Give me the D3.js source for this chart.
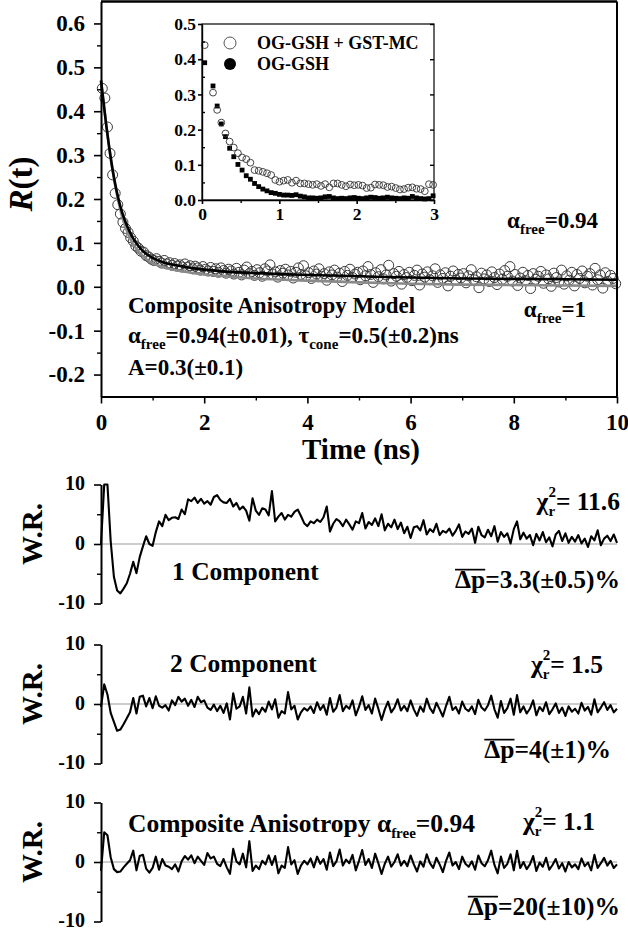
<!DOCTYPE html>
<html><head><meta charset="utf-8">
<script src="https://cdn.jsdelivr.net/npm/d3@7"></script>
<style>body{margin:0;background:#fff} svg text{font-family:"Liberation Serif","DejaVu Serif","Times New Roman",serif;}</style>
</head><body>
<script>
// ---------------- DATA ----------------
const mainT0 = 0.025, mainStep = 0.05;
const mainR = [
0.452,0.430,0.364,0.304,0.255,0.213,0.187,0.166,0.147,0.133,
0.124,0.112,0.104,0.093,0.088,0.081,0.079,0.071,0.068,0.063,
0.060,0.064,0.058,0.054,0.060,0.052,0.055,0.049,0.053,0.047,
0.050,0.045,0.052,0.044,0.048,0.041,0.047,0.043,0.038,0.046,
0.040,0.036,0.044,0.035,0.041,0.033,0.043,0.037,0.031,0.040,
0.036,0.029,0.042,0.033,0.027,0.038,0.045,0.030,0.035,0.026,
0.039,0.032,0.024,0.041,0.036,0.050,0.029,0.034,0.022,0.037,
0.031,0.040,0.027,0.035,0.020,0.033,0.043,0.028,0.048,0.025,
0.032,0.019,0.036,0.029,0.041,0.024,0.030,0.015,0.034,0.027,
0.038,0.022,0.031,0.012,0.035,0.026,0.040,0.021,0.029,0.033,
0.016,0.036,0.025,0.046,0.028,0.010,0.032,0.023,0.039,0.018,
0.027,0.049,0.013,0.030,0.024,0.035,0.006,0.028,0.021,0.033,
0.014,0.026,0.038,0.004,0.029,0.022,0.034,0.016,0.025,0.041,
0.010,0.027,0.019,0.032,0.002,0.024,0.036,0.015,0.028,0.020,
0.030,0.009,0.025,0.039,0.016,0.023,-0.002,0.031,0.018,0.027,
0.012,0.034,0.021,0.005,0.029,0.017,0.037,0.024,0.046,0.013,
0.028,0.003,0.020,0.033,0.014,0.026,-0.004,0.030,0.017,0.024,
0.035,0.008,0.027,0.018,0.001,0.031,0.021,0.011,0.038,0.006,
0.025,0.015,0.033,0.002,0.028,0.019,0.036,0.009,0.024,0.030,
0.004,0.042,0.016,0.027,-0.003,0.032,0.012,0.026,0.019,0.007];

const fitT = [0,0.05,0.1,0.15,0.2,0.25,0.3,0.35,0.4,0.5,0.6,0.7,0.8,0.9,1.0,1.2,1.4,1.6,1.8,2.0,2.5,3,4,5,6,7,8,9,10];
const fitComposite = [0.47,0.42,0.37,0.325,0.285,0.25,0.22,0.195,0.173,0.14,0.115,0.097,0.083,0.073,0.066,0.056,0.050,0.046,0.042,0.039,0.034,0.031,0.027,0.024,0.021,0.019,0.018,0.017,0.016];
const fitFree = [0.47,0.42,0.37,0.325,0.284,0.248,0.216,0.188,0.164,0.128,0.102,0.084,0.071,0.061,0.054,0.045,0.039,0.035,0.031,0.028,0.023,0.019,0.014,0.010,0.007,0.005,0.004,0.003,0.002];

const mainXTicks = [0,2,4,6,8,10];
const mainYTicks = [-0.2,-0.1,0.0,0.1,0.2,0.3,0.4,0.5,0.6];

// inset
const insetT0 = 0.035, insetStep = 0.0537;
const insetWithMC = [0.44,null,0.305,0.256,0.22,0.189,0.166,0.149,0.133,0.121,
0.116,0.106,0.085,0.083,0.080,0.076,0.071,0.057,0.052,0.055,
0.057,0.049,0.055,0.047,0.047,0.045,0.043,0.045,0.040,0.045,
0.036,0.047,0.047,0.043,0.039,0.044,0.042,0.043,0.041,0.034,
0.035,0.044,0.043,0.042,0.037,0.038,0.034,0.030,0.031,0.035,
0.036,0.032,0.031,0.025,0.045,0.043];
const insetFree = [0.39,null,0.324,0.267,0.216,0.180,0.147,0.123,0.101,0.085,
0.069,0.059,0.047,0.038,0.031,0.026,0.021,0.019,0.016,0.014,
0.014,0.013,0.015,0.011,0.009,0.006,0.006,0.005,0.006,0.009,
0.010,0.006,0.004,0.005,0.004,0.006,0.007,0.005,0.004,0.006,
0.008,0.007,0.005,0.006,0.008,0.006,0.005,0.004,0.006,0.005,
0.010,0.006,0.004,0.003,0.004,0.012];
const insetXTicks = [0,1,2,3];
const insetYTicks = [0.0,0.1,0.2,0.3,0.4,0.5];
const legendLabels = ["OG-GSH + GST-MC","OG-GSH"];

// residuals
const resT0 = 0, resStep = 0.0625;
const res1 = [0,10,10,0.5,-5.5,-7.8,-8.3,-7.5,-6.6,-5.0,
-3.0,-4.9,-2.2,-0.4,1.3,0.0,-0.3,2.0,3.8,3.0,
4.9,4.0,4.4,4.5,4.2,5.8,5.0,7.5,7.2,7.8,
6.9,7.6,6.8,7.2,6.6,7.9,8.2,7.4,7.0,6.9,
7.6,6.3,6.9,5.8,6.3,5.6,3.9,7.7,5.6,4.9,
6.0,5.8,4.8,8.9,3.8,4.6,5.2,4.1,4.9,4.6,
5.4,5.8,4.7,3.5,3.0,3.8,3.5,4.1,3.7,4.5,
6.3,2.1,3.4,4.2,3.8,3.0,4.1,3.3,2.4,3.8,
3.5,5.2,2.6,3.7,3.2,4.3,3.0,5.0,2.3,3.4,
2.8,4.1,2.5,3.6,1.8,2.9,1.0,2.8,3.0,2.3,
4.0,1.6,2.5,2.0,3.4,1.5,2.2,1.9,2.6,1.4,
2.2,3.3,1.2,2.1,1.7,2.6,0.2,2.9,1.5,1.1,
2.4,1.3,3.0,0.4,2.0,1.2,1.8,0.1,2.5,3.8,
0.8,1.9,0.9,1.5,-0.2,1.7,0.6,2.0,0.3,1.1,
-0.4,1.6,2.2,0.5,1.8,0.2,1.2,0.4,1.5,0.1,
0.9,-0.5,1.3,0.6,2.3,-0.2,0.9,1.4,0.5,1.6,0.2];
const res2 = [-0.5,3.3,1.6,-1.5,-3.0,-4.5,-4.3,-3.4,-2.4,-1.4,
1.0,-1.6,1.2,1.4,-0.4,1.0,-0.7,1.3,-0.3,-0.6,
-0.2,-1.1,0.6,-0.2,1.2,0.4,0.9,-0.3,0.7,-0.5,
1.2,0.3,0.6,-0.6,-1.0,-0.1,-1.2,-0.3,-1.5,0.1,
-2.6,1.8,-0.8,-0.4,1.2,-1.6,2.8,-2.1,-0.9,-1.7,
-0.6,-1.3,0.4,-0.9,0.8,-2.3,-1.2,-1.6,2.0,-0.9,
-0.3,-2.6,-1.4,-0.7,-1.1,-0.4,-1.5,0.3,-1.0,-0.2,
-1.8,1.0,-1.3,-0.6,1.5,-1.2,-0.3,-0.8,0.6,-1.9,
-0.5,1.3,-1.0,-0.2,-1.6,0.9,-0.8,-2.7,-0.9,0.4,
-1.4,-0.6,0.8,-1.1,-0.3,-1.2,0.6,-0.9,-2.0,-0.4,
-1.3,0.9,-0.7,-1.5,0.2,-0.9,-2.1,-0.3,1.2,-1.0,
-0.5,-1.6,0.4,-0.8,-1.2,-0.4,-1.7,0.7,-0.6,-1.1,
-0.2,1.4,-0.9,-2.3,0.5,-1.5,-0.7,0.9,-1.8,1.5,
-1.4,-0.4,-1.6,-0.8,0.6,-1.9,-0.5,-1.2,0.3,-1.7,
-0.9,0.1,-1.5,-0.6,-2.0,-0.4,-1.3,-0.8,-1.6,0.2,
-1.1,-0.5,-1.8,0.8,-1.4,-0.6,0.3,-1.0,-0.2,-1.4,-0.8];
const res3 = [-1.5,5.0,4.5,0.8,-1.2,-1.7,-1.6,-0.9,-0.3,0.3,
1.9,-1.4,1.0,1.2,-1.1,-1.8,-1.0,0.9,-1.3,0.5,
-0.6,-0.8,-1.2,-0.4,-1.6,0.1,1.0,0.4,1.1,-0.2,
0.9,0.2,-0.5,1.5,0.6,0.9,-0.3,-0.7,0.5,-0.9,
-2.0,2.2,0.1,-0.4,1.4,-0.9,3.5,-1.5,-0.6,-1.2,
0.2,-0.4,1.1,-0.5,1.0,-1.9,-0.6,-1.0,2.5,-0.4,
0.3,-2.0,-0.6,0.2,-0.4,0.6,-0.9,0.9,-0.3,0.5,
-1.3,1.6,-0.7,0.1,2.1,-0.6,0.4,-0.2,1.2,-1.4,
0.2,2.0,-0.5,0.5,-1.0,1.4,-0.2,-2.0,-0.3,0.9,
-0.8,0.0,1.3,-0.6,0.2,-0.7,1.1,-0.4,-1.6,0.1,
-0.8,1.3,-0.2,-1.0,0.7,-0.4,-1.7,0.2,1.6,-0.6,
0.0,-1.2,0.9,-0.3,-0.8,0.1,-1.3,1.1,-0.2,-0.7,
0.3,1.9,-0.5,-1.9,0.9,-1.0,-0.3,1.3,-1.4,1.9,
-1.0,0.0,-1.2,-0.4,1.0,-1.5,-0.1,-0.8,0.7,-1.3,
-0.5,0.5,-1.1,-0.2,-1.6,0.0,-0.9,-0.4,-1.2,0.6,
-0.7,-0.1,-1.4,1.2,-1.0,-0.2,0.7,-0.6,0.2,-1.0,-0.4];
const resTicks = [-10,0,10];

// ---------------- DRAW ----------------
const FONT = '"Liberation Serif","DejaVu Serif","Times New Roman",serif';
const W = 628, H = 931;
const svg = d3.select("body").append("svg").attr("width", W).attr("height", H)
  .attr("font-family", FONT).attr("font-weight", "bold");
svg.append("rect").attr("width", W).attr("height", H).attr("fill", "#fff");

function styleAxis(g, fs) {
  g.attr("font-family", FONT).attr("font-size", fs).attr("font-weight", "bold");
  g.select(".domain").attr("stroke", "#000").attr("stroke-width", 2);
  g.selectAll(".tick line").attr("stroke", "#000").attr("stroke-width", 1.6);
  g.selectAll(".tick text").attr("fill", "#000").attr("font-family", FONT).attr("font-weight", "bold");
}
function minorAxis(parent, axisFn, scale, vals, size, tr) {
  const g = parent.append("g").attr("transform", tr)
    .call(axisFn(scale).tickValues(vals).tickSize(size).tickSizeOuter(0).tickFormat(""));
  g.select(".domain").remove();
  g.selectAll(".tick line").attr("stroke", "#000").attr("stroke-width", 1.4);
  return g;
}
// sequential rich text; if endX is given the whole run is right-aligned to it
function rich(parent, x, y, pieces, size, endX) {
  const g = parent.append("g");
  let cx = 0, held = 0;
  pieces.forEach(p => {
    const fs = p.fs || size;
    const t = g.append("text").attr("x", cx).attr("y", y + (p.dy || 0))
      .attr("font-size", fs).attr("font-family", FONT).attr("font-weight", "bold")
      .attr("fill", "#000").text(p.s);
    if (p.italic) t.attr("font-style", "italic");
    const w = t.node().getComputedTextLength();
    if (p.over) {
      g.append("line").attr("x1", cx).attr("x2", cx + w)
        .attr("y1", y - fs * 0.72).attr("y2", y - fs * 0.72)
        .attr("stroke", "#000").attr("stroke-width", 1.7);
    }
    if (p.keep) { held = Math.max(held, w); }
    else { cx += Math.max(w, held); held = 0; }
  });
  const x0 = endX != null ? endX - cx : x;
  g.attr("transform", `translate(${x0},0)`);
}

// ---- main plot ----
const x = d3.scaleLinear().domain([0, 10]).range([101, 617]);
const y = d3.scaleLinear().domain([-0.25, 0.65]).range([396.5, 1.5]);
const main = svg.append("g");

const mainPts = mainR.map((v, i) => ({ t: mainT0 + i * mainStep, v }));
main.append("g").selectAll("circle").data(mainPts).join("circle")
  .attr("cx", d => x(d.t)).attr("cy", d => y(d.v)).attr("r", 5)
  .attr("fill", "none").attr("stroke", "#3a3a3a").attr("stroke-width", 1);

const fitLine = arr => d3.line().curve(d3.curveMonotoneX)
  .x((d, i) => x(fitT[i])).y(d => y(d))(arr);
main.append("path").attr("d", fitLine(fitFree)).attr("fill", "none")
  .attr("stroke", "#8a8a8a").attr("stroke-width", 2.6);
main.append("path").attr("d", fitLine(fitComposite)).attr("fill", "none")
  .attr("stroke", "#000").attr("stroke-width", 2.6);

// frame
main.append("line").attr("x1", x(0)).attr("x2", x(10)).attr("y1", y(0.65)).attr("y2", y(0.65))
  .attr("stroke", "#000").attr("stroke-width", 2.5);
main.append("line").attr("x1", x(10)).attr("x2", x(10)).attr("y1", y(0.65)).attr("y2", y(-0.25))
  .attr("stroke", "#000").attr("stroke-width", 2);

const gxm = main.append("g").attr("transform", `translate(0,${y(-0.25)})`)
  .call(d3.axisBottom(x).tickValues(mainXTicks).tickFormat(d => d).tickSize(7).tickSizeOuter(0).tickPadding(10));
styleAxis(gxm, 23);
minorAxis(main, d3.axisBottom, x, [1, 3, 5, 7, 9], 4, `translate(0,${y(-0.25)})`);
const gym = main.append("g").attr("transform", `translate(${x(0)},0)`)
  .call(d3.axisLeft(y).tickValues(mainYTicks).tickFormat(d => d.toFixed(1)).tickSize(7).tickSizeOuter(0).tickPadding(9));
styleAxis(gym, 23);
minorAxis(main, d3.axisLeft, y, [-0.15, -0.05, 0.05, 0.15, 0.25, 0.35, 0.45, 0.55], 4, `translate(${x(0)},0)`);

// axis titles
const ry = main.append("text").attr("transform", `translate(32,184) rotate(-90)`)
  .attr("text-anchor", "middle").attr("font-size", 33).attr("fill", "#000")
  .attr("font-family", FONT).attr("font-weight", "bold");
ry.append("tspan").attr("font-style", "italic").text("R");
ry.append("tspan").text("(t)");
main.append("text").attr("x", 361).attr("y", 459).attr("text-anchor", "middle")
  .attr("font-family", FONT).attr("font-weight", "bold")
  .attr("font-size", 29).attr("fill", "#000").text("Time (ns)");

// annotations
const FS = 23, SUB = { fs: 15, dy: 6 };
rich(main, 128, 313, [{ s: "Composite Anisotropy Model" }], FS);
rich(main, 128, 343, [{ s: "α" }, { s: "free", ...SUB }, { s: "=0.94(±0.01), τ" }, { s: "cone", ...SUB }, { s: "=0.5(±0.2)ns" }], FS);
rich(main, 128, 375, [{ s: "A=0.3(±0.1)" }], FS);
rich(main, 508, 228, [{ s: "α" }, { s: "free", ...SUB }, { s: "=0.94" }], FS, 598);
rich(main, 528, 317, [{ s: "α" }, { s: "free", ...SUB }, { s: "=1" }], FS, 586);

// ---- inset ----
const xi = d3.scaleLinear().domain([0, 3]).range([202, 434]);
const yi = d3.scaleLinear().domain([0, 0.5]).range([200, 24]);
const inset = svg.append("g");
inset.append("rect").attr("x", xi(0)).attr("y", yi(0.5)).attr("width", xi(3) - xi(0))
  .attr("height", yi(0) - yi(0.5)).attr("fill", "#fff").attr("stroke", "#000").attr("stroke-width", 1.2);
const openPts = insetWithMC.map((v, i) => ({ t: insetT0 + i * insetStep, v })).filter(d => d.v !== null);
const fillPts = insetFree.map((v, i) => ({ t: insetT0 + i * insetStep, v })).filter(d => d.v !== null);
inset.append("g").selectAll("rect").data(fillPts).join("rect")
  .attr("x", d => xi(d.t) - 2.4).attr("y", d => yi(d.v) - 2.4).attr("width", 4.8).attr("height", 4.8).attr("fill", "#000");
inset.append("g").selectAll("circle").data(openPts).join("circle")
  .attr("cx", d => xi(d.t)).attr("cy", d => yi(d.v)).attr("r", 3.4)
  .attr("fill", "none").attr("stroke", "#333").attr("stroke-width", 0.9);
const gxi = inset.append("g").attr("transform", `translate(0,${yi(0)})`)
  .call(d3.axisBottom(xi).tickValues(insetXTicks).tickFormat(d => d).tickSize(4).tickSizeOuter(0).tickPadding(4));
styleAxis(gxi, 17.5); gxi.select(".domain").attr("stroke-width", 1.4);
minorAxis(inset, d3.axisBottom, xi, [0.5, 1.5, 2.5], 3, `translate(0,${yi(0)})`);
const gyi = inset.append("g").attr("transform", `translate(${xi(0)},0)`)
  .call(d3.axisLeft(yi).tickValues(insetYTicks).tickFormat(d => d.toFixed(1)).tickSize(4).tickSizeOuter(0).tickPadding(2));
styleAxis(gyi, 17.5); gyi.select(".domain").attr("stroke-width", 1.4);
minorAxis(inset, d3.axisRight, yi, [0.05, 0.15, 0.25, 0.35, 0.45], 3, `translate(${xi(0)},0)`);
minorAxis(inset, d3.axisLeft, yi, insetYTicks, 4, `translate(${xi(3)},0)`);
// legend
inset.append("circle").attr("cx", 230).attr("cy", 43).attr("r", 6).attr("fill", "none").attr("stroke", "#555").attr("stroke-width", 1);
inset.append("circle").attr("cx", 230).attr("cy", 64).attr("r", 6).attr("fill", "#000");
inset.selectAll("text.leg").data(legendLabels).join("text").attr("class", "leg")
  .attr("x", 257).attr("y", (d, i) => 49 + i * 21).attr("font-size", 18)
  .attr("font-family", FONT).attr("font-weight", "bold").attr("fill", "#000").text(d => d);

// ---- residual panels ----
const RS = 25.5;
const panels = [
  { data: res1, zero: 544, label: { s: "1 Component", x: 172, y: 580 },
    chi: { end: 620, y: 510, v: "= 11.6" }, dp: { end: 620, y: 588, v: "=3.3(±0.5)%" } },
  { data: res2, zero: 704, label: { s: "2 Component", x: 170, y: 672 },
    chi: { end: 603, y: 673, v: "= 1.5" }, dp: { end: 611, y: 758, v: "=4(±1)%" } },
  { data: res3, zero: 862, label: null,
    chi: { end: 595, y: 830, v: "= 1.1" }, dp: { end: 620, y: 915, v: "=20(±10)%" } }
];
panels.forEach((p, k) => {
  const yr = d3.scaleLinear().domain([-10, 10]).range([p.zero + 59.5, p.zero - 59.5]).clamp(true);
  const g = svg.append("g");
  g.append("line").attr("x1", x(0)).attr("x2", x(10)).attr("y1", yr(0)).attr("y2", yr(0))
    .attr("stroke", "#9a9a9a").attr("stroke-width", 1);
  const pts = p.data.map((v, i) => ({ t: resT0 + i * resStep, v }));
  g.append("path").attr("d", d3.line().x(d => x(d.t)).y(d => yr(d.v))(pts))
    .attr("fill", "none").attr("stroke", "#000").attr("stroke-width", 2.1).attr("stroke-linejoin", "round");
  const ga = g.append("g").attr("transform", `translate(${x(0)},0)`)
    .call(d3.axisLeft(yr).tickValues(resTicks).tickFormat(d => d).tickSize(7).tickSizeOuter(0).tickPadding(9));
  styleAxis(ga, 20);
  ga.selectAll(".tick text").attr("dy", "0.26em");
  minorAxis(g, d3.axisLeft, yr, [-5, 5], 4, `translate(${x(0)},0)`);
  g.append("text").attr("transform", `translate(42,${p.zero - 10}) rotate(-90)`)
    .attr("text-anchor", "middle").attr("font-size", 29).attr("fill", "#000")
    .attr("font-family", FONT).attr("font-weight", "bold").text("W.R.");
  if (p.label) rich(g, p.label.x, p.label.y, [{ s: p.label.s }], RS);
  if (k === 2) rich(g, 128, 832, [{ s: "Composite Anisotropy α" }, { s: "free", fs: 15, dy: 6 }, { s: "=0.94" }], RS);
  rich(g, 0, p.chi.y, [{ s: "χ" }, { s: "r", fs: 15, dy: 6, keep: true }, { s: "2", fs: 15, dy: -13 }, { s: p.chi.v }], RS, p.chi.end);
  rich(g, 0, p.dp.y, [{ s: "Δp", over: true }, { s: p.dp.v }], RS, p.dp.end);
});
</script>
</body></html>
